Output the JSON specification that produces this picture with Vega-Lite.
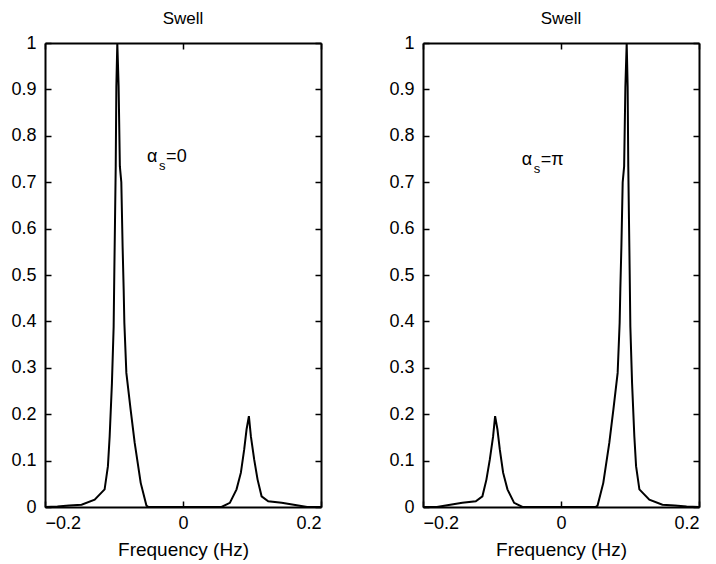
{
  "$schema": "https://vega.github.io/schema/vega-lite/v6.json",
  "background": "white",
  "padding": {"left": 10, "top": 10, "right": 5, "bottom": 5},
  "spacing": 63,
  "config": {
    "view": {"stroke": null},
    "font": "Liberation Sans",
    "axis": {"domainColor": "black", "domainWidth": 2, "tickColor": "black", "tickWidth": 1.5, "labelColor": "black", "labelFont": "Liberation Sans", "labelFontSize": 18, "grid": false, "titleColor": "black", "titleFont": "Liberation Sans", "titleFontWeight": "normal", "titleFontSize": 19},
    "title": {"font": "Liberation Sans", "fontSize": 17, "fontWeight": "normal", "color": "black", "offset": 6}
  },
  "datasets": {
    "left": [
      {"f": -0.2, "p": 0}, {"f": -0.182, "p": 0.001}, {"f": -0.165, "p": 0.003}, {"f": -0.147, "p": 0.005},
      {"f": -0.128, "p": 0.016}, {"f": -0.1136, "p": 0.038}, {"f": -0.1088, "p": 0.088}, {"f": -0.1063, "p": 0.152},
      {"f": -0.103, "p": 0.267}, {"f": -0.1005, "p": 0.389}, {"f": -0.0995, "p": 0.511}, {"f": -0.0985, "p": 0.62},
      {"f": -0.0975, "p": 0.734}, {"f": -0.0966, "p": 0.906}, {"f": -0.0952, "p": 1.0}, {"f": -0.0933, "p": 0.906},
      {"f": -0.0915, "p": 0.734}, {"f": -0.0894, "p": 0.7}, {"f": -0.0875, "p": 0.56}, {"f": -0.086, "p": 0.47},
      {"f": -0.085, "p": 0.397}, {"f": -0.0821, "p": 0.289}, {"f": -0.0759, "p": 0.21}, {"f": -0.07, "p": 0.138},
      {"f": -0.0613, "p": 0.052}, {"f": -0.053, "p": 0.003}, {"f": -0.05, "p": 0},
      {"f": 0.0558, "p": 0}, {"f": 0.0679, "p": 0.009}, {"f": 0.0776, "p": 0.038}, {"f": 0.0839, "p": 0.074},
      {"f": 0.0887, "p": 0.124}, {"f": 0.0921, "p": 0.167}, {"f": 0.0955, "p": 0.196}, {"f": 0.0984, "p": 0.152},
      {"f": 0.1032, "p": 0.102}, {"f": 0.1081, "p": 0.059}, {"f": 0.1139, "p": 0.023}, {"f": 0.1235, "p": 0.0125},
      {"f": 0.143, "p": 0.009}, {"f": 0.167, "p": 0.003}, {"f": 0.18, "p": 0}, {"f": 0.2, "p": 0}
    ],
    "right": [
      {"f": -0.2, "p": 0}, {"f": -0.18, "p": 0}, {"f": -0.167, "p": 0.003}, {"f": -0.143, "p": 0.009},
      {"f": -0.1235, "p": 0.0125}, {"f": -0.1139, "p": 0.023}, {"f": -0.1081, "p": 0.059}, {"f": -0.1032, "p": 0.102},
      {"f": -0.0984, "p": 0.152}, {"f": -0.0955, "p": 0.196}, {"f": -0.0921, "p": 0.167}, {"f": -0.0887, "p": 0.124},
      {"f": -0.0839, "p": 0.074}, {"f": -0.0776, "p": 0.038}, {"f": -0.0679, "p": 0.009}, {"f": -0.0558, "p": 0},
      {"f": 0.05, "p": 0}, {"f": 0.053, "p": 0.003}, {"f": 0.0613, "p": 0.052}, {"f": 0.07, "p": 0.138},
      {"f": 0.0759, "p": 0.21}, {"f": 0.0821, "p": 0.289}, {"f": 0.085, "p": 0.397}, {"f": 0.086, "p": 0.47},
      {"f": 0.0875, "p": 0.56}, {"f": 0.0894, "p": 0.7}, {"f": 0.0915, "p": 0.734}, {"f": 0.0933, "p": 0.906},
      {"f": 0.0952, "p": 1.0}, {"f": 0.0966, "p": 0.906}, {"f": 0.0975, "p": 0.734}, {"f": 0.0985, "p": 0.62},
      {"f": 0.0995, "p": 0.511}, {"f": 0.1005, "p": 0.389}, {"f": 0.103, "p": 0.267}, {"f": 0.1063, "p": 0.152},
      {"f": 0.1088, "p": 0.088}, {"f": 0.1136, "p": 0.038}, {"f": 0.128, "p": 0.016}, {"f": 0.147, "p": 0.005},
      {"f": 0.165, "p": 0.003}, {"f": 0.182, "p": 0.001}, {"f": 0.2, "p": 0}
    ],
    "noteLeft": [{"f": -0.052, "p": 0.755, "main": "α", "sub": "s", "rest": "=0"}],
    "noteRight": [{"f": -0.057, "p": 0.748, "main": "α", "sub": "s", "rest": "=π"}]
  },
  "hconcat": [
    {
      "width": 276, "height": 464,
      "title": "Swell",
      "layer": [
        {"data": {"name": "left"}, "mark": {"type": "line", "color": "black", "strokeWidth": 2, "interpolate": "linear"},
         "encoding": {
           "x": {"field": "f", "type": "quantitative", "scale": {"domain": [-0.2, 0.2], "nice": false, "zero": false},
                 "axis": {"orient": "bottom", "values": [-0.2, 0, 0.2], "format": "~g", "tickSize": -6, "labelPadding": 13, "title": "Frequency (Hz)", "titlePadding": 8}},
           "y": {"field": "p", "type": "quantitative", "scale": {"domain": [0, 1], "nice": false},
                 "axis": {"orient": "left", "values": [0, 0.1, 0.2, 0.3, 0.4, 0.5, 0.6, 0.7, 0.8, 0.9, 1], "format": "~g", "tickSize": -6, "labelPadding": 15, "title": null}}
         }},
        {"data": {"name": "left"}, "mark": {"type": "line", "opacity": 0},
         "encoding": {
           "x": {"field": "f", "type": "quantitative", "axis": {"orient": "top", "values": [-0.2, 0, 0.2], "labels": false, "tickSize": -6, "title": null}},
           "y": {"field": "p", "type": "quantitative", "axis": {"orient": "right", "values": [0, 0.1, 0.2, 0.3, 0.4, 0.5, 0.6, 0.7, 0.8, 0.9, 1], "labels": false, "tickSize": -6, "title": null}}
         }},
        {"data": {"name": "noteLeft"}, "mark": {"type": "text", "align": "left", "baseline": "middle", "fontSize": 18, "font": "Liberation Sans", "color": "black"},
         "encoding": {"x": {"field": "f", "type": "quantitative", "axis": null}, "y": {"field": "p", "type": "quantitative", "axis": null}, "text": {"field": "main"}}},
        {"data": {"name": "noteLeft"}, "mark": {"type": "text", "align": "left", "baseline": "middle", "fontSize": 13, "font": "Liberation Sans", "color": "black", "dx": 12, "dy": 9},
         "encoding": {"x": {"field": "f", "type": "quantitative", "axis": null}, "y": {"field": "p", "type": "quantitative", "axis": null}, "text": {"field": "sub"}}},
        {"data": {"name": "noteLeft"}, "mark": {"type": "text", "align": "left", "baseline": "middle", "fontSize": 18, "font": "Liberation Sans", "color": "black", "dx": 19},
         "encoding": {"x": {"field": "f", "type": "quantitative", "axis": null}, "y": {"field": "p", "type": "quantitative", "axis": null}, "text": {"field": "rest"}}}
      ],
      "resolve": {"axis": {"x": "independent", "y": "independent"}}
    },
    {
      "width": 276, "height": 464,
      "title": "Swell",
      "layer": [
        {"data": {"name": "right"}, "mark": {"type": "line", "color": "black", "strokeWidth": 2, "interpolate": "linear"},
         "encoding": {
           "x": {"field": "f", "type": "quantitative", "scale": {"domain": [-0.2, 0.2], "nice": false, "zero": false},
                 "axis": {"orient": "bottom", "values": [-0.2, 0, 0.2], "format": "~g", "tickSize": -6, "labelPadding": 13, "title": "Frequency (Hz)", "titlePadding": 8}},
           "y": {"field": "p", "type": "quantitative", "scale": {"domain": [0, 1], "nice": false},
                 "axis": {"orient": "left", "values": [0, 0.1, 0.2, 0.3, 0.4, 0.5, 0.6, 0.7, 0.8, 0.9, 1], "format": "~g", "tickSize": -6, "labelPadding": 15, "title": null}}
         }},
        {"data": {"name": "right"}, "mark": {"type": "line", "opacity": 0},
         "encoding": {
           "x": {"field": "f", "type": "quantitative", "axis": {"orient": "top", "values": [-0.2, 0, 0.2], "labels": false, "tickSize": -6, "title": null}},
           "y": {"field": "p", "type": "quantitative", "axis": {"orient": "right", "values": [0, 0.1, 0.2, 0.3, 0.4, 0.5, 0.6, 0.7, 0.8, 0.9, 1], "labels": false, "tickSize": -6, "title": null}}
         }},
        {"data": {"name": "noteRight"}, "mark": {"type": "text", "align": "left", "baseline": "middle", "fontSize": 18, "font": "Liberation Sans", "color": "black"},
         "encoding": {"x": {"field": "f", "type": "quantitative", "axis": null}, "y": {"field": "p", "type": "quantitative", "axis": null}, "text": {"field": "main"}}},
        {"data": {"name": "noteRight"}, "mark": {"type": "text", "align": "left", "baseline": "middle", "fontSize": 13, "font": "Liberation Sans", "color": "black", "dx": 12, "dy": 9},
         "encoding": {"x": {"field": "f", "type": "quantitative", "axis": null}, "y": {"field": "p", "type": "quantitative", "axis": null}, "text": {"field": "sub"}}},
        {"data": {"name": "noteRight"}, "mark": {"type": "text", "align": "left", "baseline": "middle", "fontSize": 18, "font": "Liberation Sans", "color": "black", "dx": 19},
         "encoding": {"x": {"field": "f", "type": "quantitative", "axis": null}, "y": {"field": "p", "type": "quantitative", "axis": null}, "text": {"field": "rest"}}}
      ],
      "resolve": {"axis": {"x": "independent", "y": "independent"}}
    }
  ]
}
